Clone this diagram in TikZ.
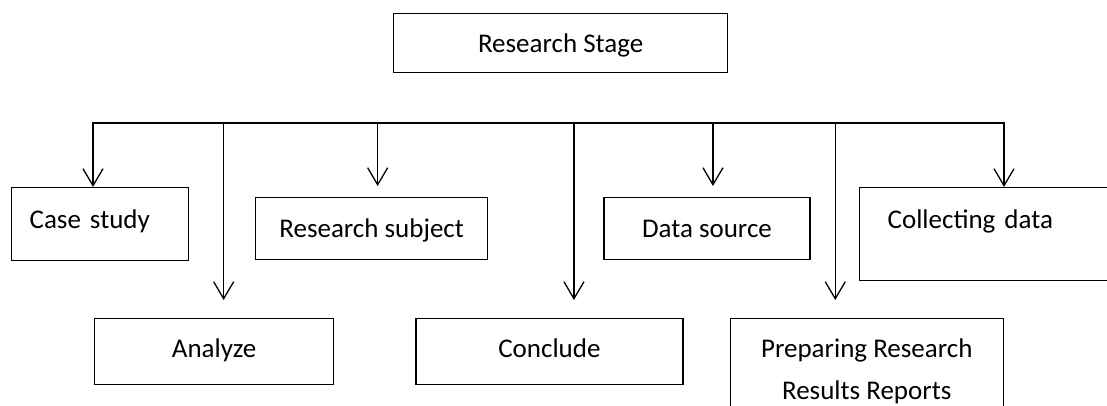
\documentclass[tikz,border=0pt]{standalone}
\usepackage{fontspec}
\setmainfont{Carlito}
\usepackage{tikz}
\usetikzlibrary{arrows.meta,positioning}

\begin{document}
\begin{tikzpicture}[
    x=1pt, y=-1pt,
    box/.style={rectangle, draw, line width=1.3pt, inner sep=0pt, align=center, font=\fontsize{27}{42}\selectfont},
    arrow/.style={->, >={Straight Barb[length=17pt,width=20pt]}, line width=1.3pt},
]
\clip (0,0) rectangle (1107,406);

% Top level
\node[box, anchor=north west, minimum width=334pt, text height=39pt, text depth=20pt] (stage) at (393,13) {Research Stage};

% Upper row
\node[box, anchor=north west, text width=141pt, inner xsep=18pt, align=left, text height=41pt, text depth=32pt] (casestudy) at (11,187) {Case study};
\node[box, anchor=north west, minimum width=232pt, text height=40pt, text depth=22pt] (subject) at (255,197) {Research subject};
\node[box, right=115pt of subject, minimum width=206pt, text height=40pt, text depth=22pt] (source) {Data source};
\node[box, anchor=north west, text width=244pt, inner xsep=28pt, align=left, text height=41pt, text depth=52pt] (collecting) at (859,187) {Collecting data};

% Lower row
\node[box, anchor=north west, minimum width=239pt, text height=39pt, text depth=27pt] (analyze) at (94,318) {Analyze};
\node[box, right=81pt of analyze, minimum width=267pt, text height=39pt, text depth=27pt] (conclude) {Conclude};
\node[box, right=46pt of conclude.north east, anchor=north west, minimum width=273pt, inner ysep=20pt] (report) {Preparing Research\\Results Reports};

% Bus and arrow ends
\coordinate (busleft) at (93,123);
\coordinate (busright) at (1004,123);
\coordinate (analyzetip) at ([xshift=9.5pt, yshift=18pt]analyze.north);
\coordinate (subjecttip) at ([xshift=6pt, yshift=11pt]subject.north);
\coordinate (concludetip) at ([xshift=24.5pt, yshift=18pt]conclude.north);
\coordinate (sourcetip) at ([xshift=6pt, yshift=11pt]source.north);
\coordinate (reporttip) at ([xshift=-31.5pt, yshift=18pt]report.north);

% Arrows
\draw[arrow, <->] (busleft |- casestudy.north) -- (busleft) -- (busright) -- (busright |- collecting.north);
\draw[arrow] (analyzetip |- busleft) -- (analyzetip);
\draw[arrow] (subjecttip |- busleft) -- (subjecttip);
\draw[arrow] (concludetip |- busleft) -- (concludetip);
\draw[arrow] (sourcetip |- busleft) -- (sourcetip);
\draw[arrow] (reporttip |- busleft) -- (reporttip);

\end{tikzpicture}
\end{document}
